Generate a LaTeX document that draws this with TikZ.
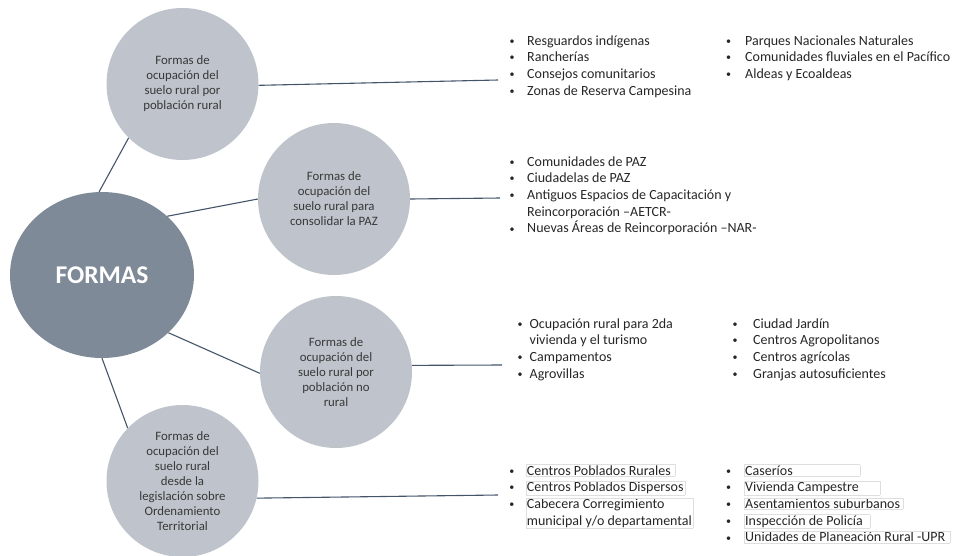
\documentclass[tikz,border=0pt]{standalone}
\usepackage{fontspec}
\setmainfont{Carlito}
\usetikzlibrary{shapes.geometric}
\definecolor{grisoscuro}{HTML}{7F8A98}
\definecolor{grisclaro}{HTML}{BFC4CC}
\definecolor{linea}{HTML}{44546A}
% vineta pequena centrada en 7pt
\newcommand{\vi}{\makebox[7pt]{\raisebox{0.8pt}{\fontsize{10}{10}\selectfont\textbullet}}}
% lista de vinetas: separacion, filas
\newcommand{\vinetas}[2]{\begin{tabular}[t]{@{}l@{\hspace{#1}}l@{}}#2\end{tabular}}
% caja tenue alrededor de un elemento
\newcommand{\caja}[2]{{\fboxsep=0.6pt\fboxrule=0.4pt\fcolorbox{black!13}{white}{\makebox[#1][l]{#2}}}}
\newcommand{\cajados}[2]{{\fboxsep=0.6pt\fboxrule=0.4pt\fcolorbox{black!13}{white}{\parbox[t]{#1}{#2}}}}

\begin{document}
\begin{tikzpicture}[x=1pt, y=-1pt,
    principal/.style={ellipse, fill=grisoscuro, minimum width=184pt, minimum height=166pt,
                      text=white, font=\fontsize{25.5}{30}\selectfont\bfseries},
    forma/.style={circle, fill=grisclaro, minimum size=152pt, inner sep=0pt, align=center,
                  text=black!78, font=\fontsize{12.8}{15}\selectfont},
    lista/.style={anchor=base west, inner sep=0pt, text=black!85, font=\fontsize{14}{16.7}\selectfont},
    enlace/.style={draw=linea, line width=1.1pt}
  ]
  \useasboundingbox (0,0) rectangle (953,555);

  % circulos
  \node[principal] (formas) at (102,275) {FORMAS};
  \node[forma] (rural) at (182.5,84) {Formas de\\ocupación del\\suelo rural por\\población rural};
  \node[forma] (paz) at (334,199) {Formas de\\ocupación del\\suelo rural para\\consolidar la PAZ};
  \node[forma] (norural) at (336,372) {Formas de\\ocupación del\\suelo rural por\\población no\\rural};
  \node[forma] (legis) at (182.5,481) {Formas de\\ocupación del\\suelo rural\\desde la\\legislación sobre\\Ordenamiento\\Territorial};

  \draw[enlace] (formas.92.8) -- (rural.225);
  \draw[enlace] (formas.42) -- (paz.180);
  \draw[enlace] (formas.-41) -- (norural.181);
  \draw[enlace] (formas.-90) -- (legis.136);

  % listas
  \coordinate (fin1) at (498,80);
  \coordinate (fin2) at (500,198);
  \coordinate (fin3) at (502,365);
  \coordinate (fin4) at (498,495);
  \draw[enlace] (rural.-1.5) -- (fin1);
  \draw[enlace] (paz.0) -- (fin2);
  \draw[enlace] (norural.5) -- (fin3);
  \draw[enlace] (legis.-13) -- (fin4);

  \node[lista] (ruralA) at (508.5,45) {\vinetas{11.5pt}{%
      \vi & Resguardos indígenas\\
      \vi & Rancherías\\
      \vi & Consejos comunitarios\\
      \vi & Zonas de Reserva Campesina}};
  \node[lista] (ruralB) at (724.8,45) {\vinetas{13.2pt}{%
      \vi & Parques Nacionales Naturales\\
      \vi & Comunidades fluviales en el Pacífico\\
      \vi & Aldeas y Ecoaldeas}};

  \node[lista] (pazA) at (508.5,166) {\vinetas{11.5pt}{%
      \vi & Comunidades de PAZ\\
      \vi & Ciudadelas de PAZ\\
      \vi & Antiguos Espacios de Capacitación y\\
          & Reincorporación –AETCR-\\
      \vi & Nuevas Áreas de Reincorporación –NAR-}};

  \node[lista] (noruralA) at (516.5,328) {\vinetas{6pt}{%
      \vi & Ocupación rural para 2da\\
          & vivienda y el turismo\\
      \vi & Campamentos\\
      \vi & Agrovillas}};
  \node[lista] (noruralB) at (731.5,328) {\vinetas{14.5pt}{%
      \vi & Ciudad Jardín\\
      \vi & Centros Agropolitanos\\
      \vi & Centros agrícolas\\
      \vi & Granjas autosuficientes}};

  \node[lista] (legisA) at (508.2,475) {\vinetas{10.5pt}{%
      \vi & \caja{147pt}{Centros Poblados Rurales}\\
      \vi & \caja{157pt}{Centros Poblados Dispersos}\\
      \vi & \cajados{165pt}{Cabecera Corregimiento\\municipal y/o departamental}}};
  \node[lista] (legisB) at (724.8,475) {\vinetas{12.2pt}{%
      \vi & \caja{114pt}{Caseríos}\\
      \vi & \caja{134pt}{Vivienda Campestre}\\
      \vi & \caja{157pt}{Asentamientos suburbanos}\\
      \vi & \caja{124pt}{Inspección de Policía}\\
      \vi & \caja{204pt}{Unidades de Planeación Rural -UPR}}};
\end{tikzpicture}
\end{document}
